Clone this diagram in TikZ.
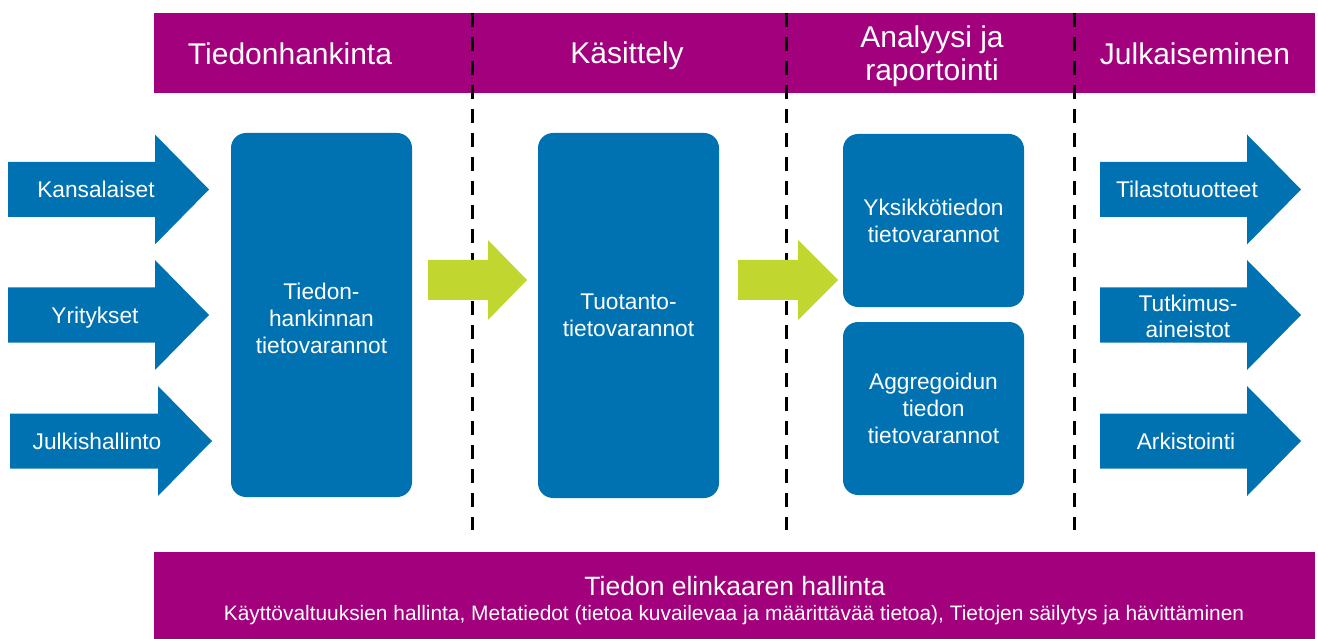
\documentclass[tikz,border=0pt]{standalone}
\usepackage{fontspec}
\setmainfont{Liberation Sans}
\definecolor{mag}{RGB}{163,0,126}
\definecolor{blu}{RGB}{0,114,178}
\definecolor{grn}{RGB}{194,214,48}
\newcommand{\harrow}[6]{% style, x0, x1, x2, yc, shaft half
  \fill[#1] (#2,#5-#6) -- (#3,#5-#6) -- (#3,#5-2*#6) -- (#4,#5) -- (#3,#5+2*#6) -- (#3,#5+#6) -- (#2,#5+#6) -- cycle;}
\begin{document}
\begin{tikzpicture}[x=1pt,y=-1pt,
  blk/.style={fill=blu, rounded corners=15pt, draw=none, text=white, align=center,
    font=\fontsize{22.7}{27}\selectfont, inner sep=0pt},
  hdr/.style={text=white, align=center, font=\fontsize{30}{33}\selectfont, inner sep=0pt},
  lbl/.style={text=white, align=center, font=\fontsize{22.7}{26}\selectfont, inner sep=0pt},
  bar/.style={fill=mag, draw=none, inner sep=0pt, anchor=north west},
  divl/.style={line width=3pt, dash pattern=on 14pt off 10pt}]
\useasboundingbox (0,0) rectangle (1318,639);
\fill[white] (0,0) rectangle (1318,639);
% bars
\node[bar, minimum width=1161pt, minimum height=80pt] (top) at (154,13) {};
\node[bar, minimum width=1161pt, minimum height=87pt] (bot) at (154,552) {};
% dashed dividers
\foreach \i/\x in {1/472,2/786,3/1074}{
  \coordinate (d\i a) at (\x,13);
  \coordinate (d\i b) at (\x,530);
  \draw[divl] (d\i a) -- (d\i b);
}
% headers
\node[hdr] (h1) at (290,54) {Tiedonhankinta};
\node[hdr] (h2) at (627,56) {Käsittely};
\node[hdr] (h3) at (932,56) {Analyysi ja\\raportointi};
\node[hdr] (h4) at (1195,54) {Julkaiseminen};
% left arrows
\harrow{blu}{8}{155}{209}{189.5}{27.5}
\harrow{blu}{8}{155}{209}{315}{27.5}
\harrow{blu}{10}{158}{212}{441}{27.5}
\node[lbl] (l1) at (96,189) {Kansalaiset};
\node[lbl] (l2) at (95,318) {Yritykset};
\node[lbl] (l3) at (97,441) {Julkishallinto};
% right arrows
\harrow{blu}{1100}{1247}{1301}{189.5}{27.5}
\harrow{blu}{1100}{1247}{1301}{315}{27.5}
\harrow{blu}{1100}{1247}{1301}{441}{27.5}
\node[lbl] (r1) at (1187,189) {Tilastotuotteet};
\node[lbl] (r2) at (1188,316) {Tutkimus-\\aineistot};
\node[lbl] (r3) at (1186,441) {Arkistointi};
% boxes
\node[blk, minimum width=181pt, minimum height=364pt] (b1) at (321.5,315) {};
\node[lbl, font=\fontsize{22.7}{27}\selectfont] (t1) at (321.5,318) {Tiedon-\\hankinnan\\tietovarannot};
\node[blk, minimum width=181pt, minimum height=365pt] (b2) at (628.5,315.5) {Tuotanto-\\tietovarannot};
\node[blk, minimum width=181pt, minimum height=173pt] (b3) at (933.5,220.5) {Yksikkötiedon\\tietovarannot};
\node[blk, minimum width=181pt, minimum height=173pt] (b4) at (933.5,408.5) {Aggregoidun\\tiedon\\tietovarannot};
% green arrows
\harrow{grn}{428}{488}{527}{280}{20}
\harrow{grn}{738}{798}{838}{280}{20}
% bottom text
\node[text=white, inner sep=0pt, font=\fontsize{26.5}{30}\selectfont] (bt1) at (735,586) {Tiedon elinkaaren hallinta};
\node[text=white, inner sep=0pt, font=\fontsize{20.9}{24}\selectfont] (bt2) at (734,615) {Käyttövaltuuksien hallinta, Metatiedot (tietoa kuvailevaa ja määrittävää tietoa), Tietojen säilytys ja hävittäminen};
\end{tikzpicture}
\end{document}
